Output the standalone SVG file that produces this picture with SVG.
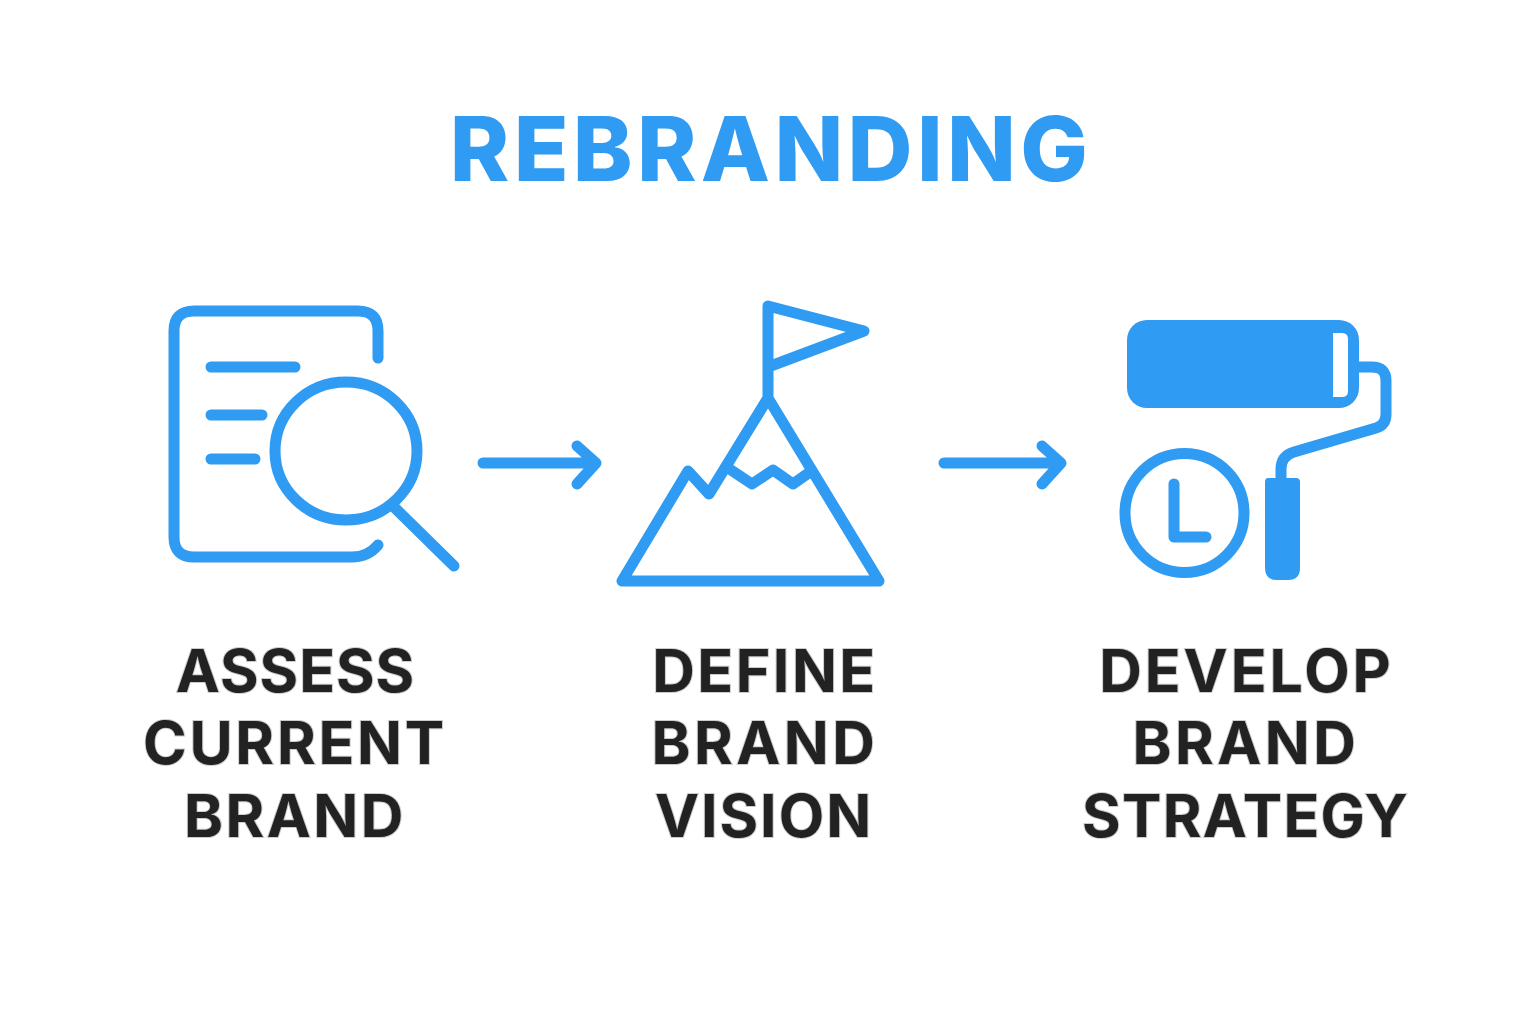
<svg xmlns="http://www.w3.org/2000/svg" width="1536" height="1024" viewBox="0 0 1536 1024">
<style>
.s{fill:none;stroke:#2f9bf2;stroke-width:11;stroke-linecap:round;stroke-linejoin:round}
.f{fill:#2f9bf2}
.t{font-family:Inter,"Liberation Sans",sans-serif;font-weight:700;font-size:59px;fill:#222;text-anchor:middle;stroke:#ccc;stroke-width:2;paint-order:stroke}
</style>
<rect width="1536" height="1024" fill="#fff"/>
<text id="title" x="771" y="181" text-anchor="middle" font-family="Inter,'Liberation Sans',sans-serif" font-weight="800" font-size="90" letter-spacing="4.300" fill="#2f9bf2">REBRANDING</text>
<g id="assess">
<path class="s" d="M378 358V331Q378 311 358 311H194Q174 311 174 331V537Q174 557 194 557H352Q368 557 378 545"/>
<path class="s" d="M211 367H295M211 415H262M211 459H255"/>
<ellipse class="s" cx="346" cy="451" rx="71" ry="69"/>
<path class="s" d="M395 508L454 566"/>
<text class="t" x="295.500" y="692" letter-spacing="1">ASSESS</text><text class="t" x="295" y="764" letter-spacing="2.800">CURRENT</text><text class="t" x="295" y="837" letter-spacing="2.500">BRAND</text>
</g>
<g id="define">
<path class="s" d="M768 395V306L864 331L768 367"/>
<path class="s" d="M622 581H879L768 398L709 494L688 471Z"/>
<path class="s" d="M731 470L752 484L773 470L793 484L810 472"/>
<text class="t" x="765" y="692" letter-spacing="2.500">DEFINE</text><text class="t" x="765" y="764" letter-spacing="3.500">BRAND</text><text class="t" x="764" y="837" letter-spacing="2">VISION</text>
</g>
<g id="develop">
<rect class="f" x="1127" y="320" width="232" height="88" rx="20"/>
<path d="M1333 333H1342Q1348 333 1348 339V391Q1348 397 1342 397H1333Z" fill="#fff"/>
<path class="s" d="M1358 367H1372Q1386 367 1386 381V414Q1386 425 1376 428L1294 452Q1281 456 1281 469V482"/>
<path class="f" d="M1268 478H1296Q1300 478 1300 482V568Q1300 580 1288 580H1277Q1265 580 1265 568V482Q1265 478 1268 478Z"/>
<circle class="s" cx="1184.500" cy="513" r="59.500"/>
<path class="s" d="M1174 484V537H1206"/>
<text class="t" x="1246.500" y="692" letter-spacing="3">DEVELOP</text><text class="t" x="1246" y="764" letter-spacing="3.500">BRAND</text><text class="t" x="1245.500" y="837" letter-spacing="1.300">STRATEGY</text>
</g>
<g id="connectors">
<path class="s" d="M483 463H595M577 446L596 463L577 484"/>
<path class="s" d="M944 463H1060M1042 446L1061 463L1042 484"/>
</g>
</svg>
